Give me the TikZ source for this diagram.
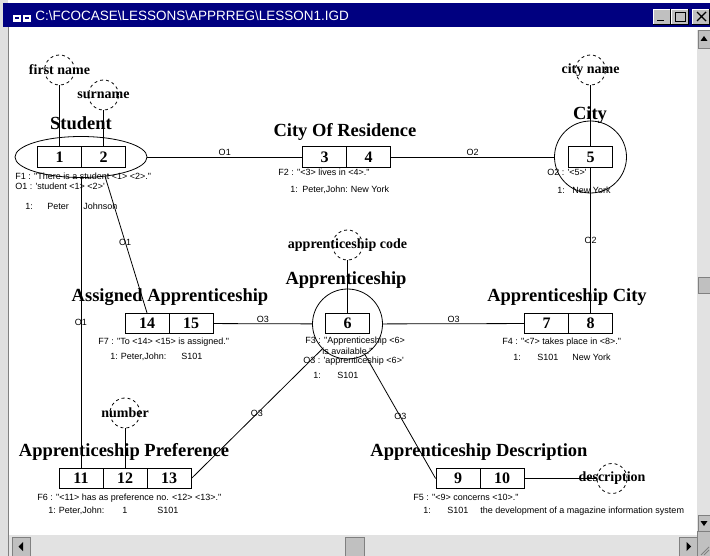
\documentclass[tikz,border=0pt]{standalone}
\usepackage{fontspec}
\setmainfont{Liberation Serif}
\newfontfamily\annfont{Liberation Sans}
\usetikzlibrary{shapes.geometric}
\definecolor{titleblue}{RGB}{0,0,128}
\definecolor{wingray}{RGB}{192,192,192}
\definecolor{trackgray}{RGB}{226,226,226}
\definecolor{btnshade}{RGB}{128,128,128}

\begin{document}
\begin{tikzpicture}[x=1pt,y=-1pt,line width=0.8pt,
  role/.style={rectangle,draw,font=\bfseries\fontsize{16}{16}\selectfont,
    minimum height=20.5pt,minimum width=44pt,inner sep=0pt},
  fact/.style={font=\bfseries\fontsize{18.5}{18.5}\selectfont,inner sep=0pt},
  attr/.style={circle,draw,dashed,minimum size=30pt,inner sep=0pt},
  attrname/.style={font=\bfseries\fontsize{14}{14}\selectfont,inner sep=0pt},
  ann/.style={font=\annfont\fontsize{9}{9}\selectfont,anchor=west,inner sep=0pt},
  olabel/.style={font=\annfont\fontsize{9}{9}\selectfont,inner sep=1pt},
  winbtn/.style={fill=wingray,draw=btnshade,line width=0.8pt}]

  \useasboundingbox (0,0) rectangle (710,556);

  % window frame
  \fill[white] (0,0) rectangle (710,556);
  \fill[wingray!50] (0,0) rectangle (8,556);
  \draw[btnshade,line width=1.2pt] (8.5,27) -- (8.5,556);
  \fill[titleblue] (3,3) rectangle (710,27);
  \fill[white] (13,15) rectangle (21,22);
  \fill[white] (23,15) rectangle (31,22);
  \fill[titleblue] (15,17.5) rectangle (19,19.5);
  \fill[titleblue] (25,17.5) rectangle (29,19.5);
  \node[anchor=west,text=white,inner sep=0pt,font=\annfont\fontsize{13.5}{13.5}\selectfont]
    (title) at (35,16) {C:\textbackslash FCOCASE\textbackslash LESSONS\textbackslash APPRREG\textbackslash LESSON1.IGD};
  \foreach \x in {653,671,692} {
    \fill[wingray] (\x,9) rectangle (\x+17,24);
    \draw[white] (\x,24) -- (\x,9) -- (\x+17,9);
    \draw[black] (\x,24) -- (\x+17,24) -- (\x+17,9);
  }
  \draw[line width=1.8pt] (657,20.5) -- (664,20.5);
  \draw (675,12) rectangle (685,21);
  \draw[line width=1.6pt] (675,12.5) -- (685,12.5);
  \draw[line width=1.4pt] (697,12) -- (706,21) (697,21) -- (706,12);

  % scroll bars
  \fill[trackgray] (697,30) rectangle (710,531);
  \fill[trackgray] (9,535) rectangle (697,556);
  \draw[winbtn] (698,30) rectangle (710,48);
  \draw[winbtn] (698,277) rectangle (710,293);
  \draw[winbtn] (698,515) rectangle (710,531);
  \draw[winbtn] (12,537) rectangle (30,556);
  \draw[winbtn] (345,537) rectangle (364,556);
  \draw[winbtn] (679,537) rectangle (697,556);
  \draw[winbtn] (697,531) rectangle (710,556);
  \fill (704,36) -- (700.5,41) -- (707.5,41) -- cycle;
  \fill (704,526) -- (700.5,521) -- (707.5,521) -- cycle;
  \fill (18.5,546.5) -- (23,542) -- (23,551) -- cycle;
  \fill (691,546.5) -- (686.5,542) -- (686.5,551) -- cycle;
  \draw[btnshade] (701,555) -- (709,547) (704,555) -- (709,550);

  % role boxes
  \node[role] (r1) at (59.5,157) {1};
  \node[role] (r2) [node distance=44pt,right of=r1] {2};
  \node[role] (r3) at (324.5,157) {3};
  \node[role] (r4) [node distance=44pt,right of=r3] {4};
  \node[role] (r5) at (590.5,157) {5};
  \node[role] (r14) at (147,323.5) {14};
  \node[role] (r15) [node distance=44pt,right of=r14] {15};
  \node[role] (r6) at (347.5,323.5) {6};
  \node[role] (r7) at (546.5,323.5) {7};
  \node[role] (r8) [node distance=44pt,right of=r7] {8};
  \node[role] (r11) at (81,478.5) {11};
  \node[role] (r12) [node distance=44pt,right of=r11] {12};
  \node[role] (r13) [node distance=44pt,right of=r12] {13};
  \node[role] (r9) at (458,478.5) {9};
  \node[role] (r10) [node distance=44pt,right of=r9] {10};

  % fact type names
  \node[fact] (tStudent) at (81,123) {Student};
  \node[fact] (tResidence) at (345,132) {City Of Residence};
  \node[fact] (tCity) at (590,115) {City};
  \node[fact] (tAssigned) at (170,297) {Assigned Apprenticeship};
  \node[fact] (tAppr) at (346,280) {Apprenticeship};
  \node[fact] (tApprCity) at (567,297) {Apprenticeship City};
  \node[fact] (tPref) at (124,452) {Apprenticeship Preference};
  \node[fact] (tDescr) at (479,452) {Apprenticeship Description};

  % object types
  \node[ellipse,draw,minimum width=132pt,minimum height=41pt,inner sep=0pt] (st) at (81,157) {};
  \node[circle,draw,minimum size=72pt,inner sep=0pt] (ci) at (590.5,157) {};
  \node[circle,draw,minimum size=70pt,inner sep=0pt] (ap) at (347.5,324) {};

  % label types
  \node[attr,label={[attrname]center:first name}] (fn) at (59.5,70) {};
  \node[attr,label={[attrname]center:surname}] (sn) at (103.5,95) {};
  \node[attr,label={[attrname]center:city name}] (cn) at (590.5,70) {};
  \node[attr,label={[attrname]center:apprenticeship code}] (apc) at (347.5,245) {};
  \node[attr,label={[attrname]center:number}] (nu) at (125,413) {};
  \node[attr,label={[attrname]center:description}] (de) at (612,478.5) {};

  \draw (fn) -- (r1);
  \draw (sn) -- (r2);
  \draw (cn) -- (r5);
  \draw (apc) -- (r6);
  \draw (nu) -- (r12);
  \draw (r10) -- (de);

  \draw (st) -- node[olabel,above] {O1} (r3);
  \draw (r4) -- node[olabel,above] {O2} (ci);
  \draw (r5) -- node[olabel] {O2} (r8);
  \draw (st) -- node[olabel] {O1} (r11);
  \draw (st.-39) -- node[olabel,pos=0.48] {O1} (r14.north);
  \draw (r15) -- node[olabel,above] {O3} (ap);
  \draw (ap) -- node[olabel,above] {O3} (r7);
  \draw (r13.east) -- node[olabel] {O3} (ap);
  \draw (ap) -- node[olabel] {O3} (r9.west);

  % verbalisations and populations
  \node[ann] (f1) at (15,176) {F1 : "There is a student <1> <2>."};
  \node[ann] (o1) at (15,186) {O1 : 'student <1> <2>'};
  \node[ann] (p1) at (25,206) {1:\hspace{14.5pt}Peter\hspace{14.5pt}Johnson};
  \node[ann] (f2) at (278,172) {F2 : "<3> lives in <4>."};
  \node[ann] (p2) at (290,190) {1:\hspace{4.5pt}Peter,John:\hspace{3pt}New York};
  \node[ann] (o2) at (547,172) {O2 : '<5>'};
  \node[ann] (p5) at (557,190) {1:\hspace{7.5pt}New York};
  \node[ann] (f7) at (98,342) {F7 : "To <14> <15> is assigned."};
  \node[ann] (p7) at (110,357) {1:\hspace{3pt}Peter,John:\hspace{15pt}S101};
  \node[ann] (f3) at (305,341) {F3 : "Apprenticeship <6>};
  \node[ann] (f3b) at (322,351) {is available."};
  \node[ann] (o3) at (303,361) {O3 : 'apprenticeship <6>'};
  \node[ann] (p3) at (313,375) {1:\hspace{16.5pt}S101};
  \node[ann] (f4) at (502,342) {F4 : "<7> takes place in <8>."};
  \node[ann] (p4) at (513,357) {1:\hspace{16.5pt}S101\hspace{14pt}New York};
  \node[ann] (f6) at (37,498) {F6 : "<11> has as preference no. <12> <13>."};
  \node[ann] (p6) at (48,511) {1:\hspace{3pt}Peter,John:\hspace{18pt}1\hspace{30pt}S101};
  \node[ann] (f5) at (413,497) {F5 : "<9> concerns <10>."};
  \node[ann] (p8) at (423,511) {1:\hspace{16.5pt}S101\hspace{12pt}the development of a magazine information system};
\end{tikzpicture}
\end{document}
